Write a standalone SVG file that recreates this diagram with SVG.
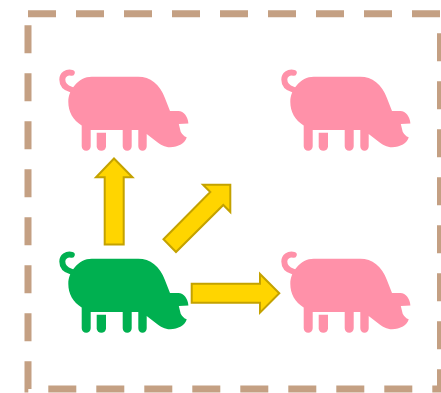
<svg xmlns="http://www.w3.org/2000/svg" width="441" height="393" viewBox="0 0 441 393">
<style>
.frame{fill:none;stroke:#C4A083;stroke-width:7;stroke-dasharray:28 20}
.arrow{fill:#FFD500;stroke:#C4A200;stroke-width:2}
.pink{fill:#FF91A9;color:#FF91A9}
.green{fill:#00B050;color:#00B050}
</style>
<defs>
<g id="pig">
<path d="M75,85 C79,80 85,76.700 91.700,76.700 L138.300,76.700 C150,76.700 160,84 165,98.300 L170,111 L178.300,111 C184,111 188,117 188.400,123.500 L178.800,124 L180.700,131.700 C182,134 184,136.500 186.700,137.300 C185.500,143 178,147.300 170,147.300 C165,147.300 160,144.500 156.700,141.700 L146.700,134 L146.700,146.200 A4.200,4.500 0 0 1 138.300,146.200 L138.300,130 L131.700,130 L131.700,146.200 A4.500,4.500 0 0 1 122.700,146.200 L122.700,130 L90.700,130 L90.700,146.200 A4.500,4.500 0 0 1 81.700,146.200 L81.700,125.500 C73,120 68.300,112 68.300,101.700 C68.300,95 71,89.500 75,85 Z"/>
<path d="M96.700,132.700 H106 V146.200 A4.650,4.500 0 0 1 96.700,146.200 Z"/>
<path d="M71.800,72.800 C66.500,71.500 62.300,75 62.300,79.500 C62.300,84.500 66,88 71,89.500" fill="none" stroke="currentColor" stroke-width="6" stroke-linecap="round"/>
</g>
</defs>
<g id="frame"><path class="frame" d="M28,13.700 H440.500 V389 H28 Z"/></g>
<g id="pig-top-left" class="pink"><use href="#pig"/></g>
<g id="pig-top-right" class="pink"><use href="#pig" x="222"/></g>
<g id="pig-bottom-right" class="pink"><use href="#pig" x="222" y="182"/></g>
<g id="pig-bottom-left" class="green"><use href="#pig" y="182"/></g>
<g id="connectors">
<path class="arrow" d="M104.700,244.500 V177.300 H96 L114,158.500 L132.500,177.300 H123.700 V244.500 Z"/>
<path class="arrow" d="M163.500,239.300 L210.300,192 L203,184.700 H230.300 V212 L223.300,205 L176,252 Z"/>
<path class="arrow" d="M191.700,283.700 H260 V274 L279.300,293.300 L260,312.700 V302.700 H191.700 Z"/>
</g>
</svg>
